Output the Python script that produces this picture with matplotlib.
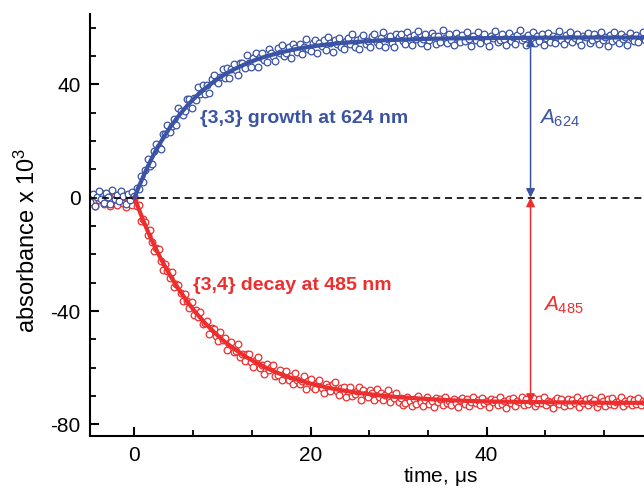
import numpy as np
import matplotlib
matplotlib.use("Agg")
import matplotlib.pyplot as plt
from matplotlib.ticker import MultipleLocator, FixedLocator

plt.rcParams['font.family'] = ['Liberation Sans', 'DejaVu Sans']
plt.rcParams['mathtext.fontset'] = 'custom'
plt.rcParams['mathtext.rm'] = 'Liberation Sans'
plt.rcParams['mathtext.it'] = 'Liberation Sans:italic'
plt.rcParams['axes.unicode_minus'] = False

# sampled traces, 0.25 us steps starting at -5 us
t_start = -5.0
t_step = 0.25

blue_pts = [-1.5, 1.2, -2.8, 0.4, 2.3, -0.6, -1.9, 1.7, 0.2, -2.4,
            2.8, -0.3, 1.1, -1.2, 2.5, 0.7, -2.1, 1.4, -0.8, 2.0,
            0.6,
            3.3, 3.1, 7.8, 5.6, 9.7, 13.5, 11.3, 11.7, 16.5, 18.8,
            17.9, 17.0, 22.6, 22.4, 25.8, 23.1, 25.4, 27.9, 25.6, 31.7,
            30.4, 29.0, 30.7, 34.7, 34.8, 31.7, 35.3, 34.6, 39.1, 36.5,
            39.7, 36.5, 39.9, 36.9, 41.8, 43.2, 41.0, 40.4, 42.6, 45.5,
            42.2, 45.6, 42.1, 45.3, 47.2, 44.9, 43.4, 47.5, 47.4, 45.6,
            50.2, 47.5, 46.2, 49.3, 51.0, 46.0, 49.5, 51.0, 48.6, 47.8,
            52.3, 51.2, 49.9, 48.3, 52.7, 51.1, 53.9, 50.0, 50.9, 53.2,
            49.3, 54.3, 52.9, 51.3, 54.1, 50.6, 53.2, 55.9, 52.3, 51.6,
            54.5, 55.8, 51.1, 54.5, 53.4, 55.8, 52.1, 56.6, 54.4, 51.5,
            55.7, 54.3, 56.5, 53.3, 52.3, 55.4, 56.4, 54.1, 57.6, 53.3,
            55.5, 52.4, 56.3, 57.3, 54.1, 55.2, 53.3, 57.1, 57.8, 54.9,
            54.0, 56.4, 58.3, 53.3, 55.9, 57.1, 54.7, 53.2, 57.8, 56.7,
            57.9, 55.2, 54.1, 58.4, 56.7, 53.8, 57.3, 55.9, 58.9, 54.6,
            56.1, 57.8, 53.4, 55.5, 58.2, 56.9, 54.3, 57.1, 55.0, 59.3,
            56.4, 54.7, 57.6, 55.6, 53.9, 58.0, 56.2, 54.9, 57.4, 55.3,
            58.6, 56.0, 53.6, 57.0, 55.8, 58.3, 54.4, 56.6, 57.7, 55.1,
            53.5, 57.2, 56.3, 58.7, 54.8, 55.7, 57.9, 56.1, 53.9, 58.1,
            55.4, 56.8, 54.2, 57.5, 59.0, 55.6, 56.5, 54.0, 57.3, 55.9,
            58.4, 54.5, 56.9, 55.2, 57.8, 53.7, 56.2, 58.2, 55.0, 57.0,
            54.6, 56.7, 58.8, 55.5, 54.1, 57.4, 56.0, 58.5, 54.9, 56.4,
            57.6, 55.3, 53.8, 57.1, 56.6, 58.0, 54.7, 55.8, 57.9, 56.3,
            54.3, 58.6, 55.7, 56.8, 53.6, 57.3, 55.1, 58.3, 56.1, 54.5,
            57.7, 55.9, 56.6, 54.0, 58.1, 56.2, 55.4, 57.5, 54.8, 56.9,
            58.4, 55.6]

red_pts = [0.8, -1.6, -2.9, 0.3, -0.9, 1.5, -2.2, -0.4, 1.1, -3.1,
           -1.3, 0.6, -2.5, -0.1, 1.9, -1.8, -3.4, 0.2, -1.1, -2.7,
           -0.5,
           -3.0, -2.5, -8.1, -7.7, -8.7, -13.3, -11.3, -15.5, -18.7, -17.7,
           -18.1, -22.2, -25.4, -23.5, -25.8, -28.4, -26.1, -31.7, -30.4, -30.8,
           -33.6, -36.6, -33.9, -36.4, -38.8, -36.8, -41.3, -39.8, -42.1, -40.2,
           -44.7, -44.2, -43.5, -48.2, -45.9, -46.2, -48.9, -50.5, -47.4, -50.3,
           -49.5, -53.6, -51.5, -50.8, -54.3, -54.2, -51.8, -56.2, -55.1, -57.8,
           -55.3, -55.2, -58.0, -59.6, -57.3, -56.3, -60.1, -59.0, -62.2, -58.7,
           -60.8, -59.9, -59.1, -63.0, -62.4, -60.9, -64.5, -62.1, -61.3, -64.2,
           -63.1, -65.6, -61.7, -64.5, -65.8, -64.6, -63.1, -67.5, -64.6, -64.1,
           -66.7, -67.6, -65.5, -64.3, -67.0, -69.0, -65.8, -66.9, -68.3, -65.6,
           -65.1, -68.2, -69.5, -67.0, -66.8, -70.2, -68.3, -66.9, -70.0, -69.4,
           -68.3, -66.9, -71.4, -67.9, -69.3, -70.5, -67.7, -68.9, -71.4, -67.4,
           -70.5, -68.8, -71.4, -69.7, -67.9, -72.2, -69.5, -70.6, -68.9, -72.0,
           -70.6, -73.1, -72.4, -70.2, -71.8, -73.6, -71.0, -72.7, -69.9, -72.2,
           -73.4, -71.3, -70.5, -72.9, -71.6, -73.9, -70.8, -72.0, -71.2, -73.3,
           -70.3, -72.5, -71.7, -73.0, -70.9, -72.3, -74.0, -71.4, -70.7, -72.8,
           -71.1, -73.5, -72.1, -70.4, -72.6, -71.5, -73.2, -70.6, -72.4, -71.9,
           -73.7, -70.9, -72.2, -71.3, -73.0, -70.5, -72.7, -71.8, -74.1, -71.0,
           -72.5, -70.7, -73.4, -71.6, -72.0, -70.3, -73.1, -71.2, -72.9, -71.7,
           -70.8, -73.6, -72.3, -71.1, -72.6, -70.4, -73.3, -71.9, -72.1, -74.2,
           -71.4, -70.6, -72.8, -71.0, -73.5, -72.2, -70.9, -73.0, -71.5, -72.4,
           -70.2, -73.8, -71.7, -72.6, -71.2, -73.2, -70.7, -72.0, -71.3, -73.9,
           -72.5, -70.5, -71.8, -73.4, -71.1, -72.7, -70.8, -73.1, -72.2, -71.6,
           -70.4, -73.6, -71.9, -72.3, -70.9, -73.0, -71.4, -72.8, -70.6, -73.3,
           -71.7, -72.1]

# fitted curves
fit_t = [0, 0.5, 1, 1.5, 2, 2.5, 3, 4, 5, 6, 7, 8, 9, 10, 11, 12, 13, 14, 15,
         16, 17, 18, 19, 20, 22, 24, 26, 28, 30, 33, 36, 40, 45, 50, 55, 58]
blue_fit = [0, 3.9, 7.5, 10.9, 14.1, 17.0, 19.7, 24.6, 28.8, 32.5, 35.7, 38.5,
            40.9, 43.0, 44.8, 46.3, 47.7, 48.9, 49.9, 50.7, 51.5, 52.2, 52.8,
            53.3, 54.1, 54.7, 55.1, 55.5, 55.7, 56.0, 56.2, 56.3, 56.4, 56.5,
            56.5, 56.5]
red_fit = [0, -4.1, -8.1, -11.8, -15.2, -18.5, -21.6, -27.2, -32.2, -36.7,
           -40.7, -44.2, -47.3, -50.2, -52.6, -54.8, -56.8, -58.5, -60.1, -61.5,
           -62.7, -63.8, -64.7, -65.6, -67.1, -68.2, -69.1, -69.8, -70.4, -71.0,
           -71.5, -71.9, -72.1, -72.3, -72.4, -72.4]

x_major = [0, 20, 40]
arrow_t = 45
blue_amp = 56.5
red_amp = -72.4

blue = '#3a53a4'
red = '#ee2e2e'

t_blue = t_start + t_step * np.arange(len(blue_pts))
t_red = t_start + t_step * np.arange(len(red_pts))

fig = plt.figure(figsize=(6.44, 4.91), dpi=100)
# axes run past the right edge, the figure is cropped there
ax = fig.add_axes([0.1405, 0.112, 1.227 - 0.1405, 0.8595])

ax.plot(t_red, red_pts, 'o', ms=4.8, mfc='white', mec=red, mew=0.9, zorder=2)
ax.plot(t_blue, blue_pts, 'o', ms=4.8, mfc='white', mec=blue, mew=0.9, zorder=2)
ax.plot(fit_t, red_fit, '-', color=red, lw=3, zorder=3)
ax.plot(fit_t, blue_fit, '-', color=blue, lw=3, zorder=3)

ax.axhline(0, color='black', lw=1.2, dashes=(4.2, 2.9), zorder=4)

ax.annotate('', xy=(arrow_t, 0), xytext=(arrow_t, blue_amp),
            arrowprops=dict(arrowstyle='<|-|>', color=blue, lw=1.1,
                            mutation_scale=13, shrinkA=0, shrinkB=0), zorder=5)
ax.annotate('', xy=(arrow_t, 0), xytext=(arrow_t, red_amp),
            arrowprops=dict(arrowstyle='<|-|>', color=red, lw=1.1,
                            mutation_scale=13, shrinkA=0, shrinkB=0), zorder=5)

ax.text(7.5, 28, '{3,3} growth at 624 nm', color=blue, fontsize=14,
        fontweight='bold', va='center')
ax.text(6.6, -31, '{3,4} decay at 485 nm', color=red, fontsize=14,
        fontweight='bold', va='center')
ax.text(46.0, 28, r'$A_{\mathrm{624}}$', color=blue, fontsize=15, va='center')
ax.text(46.4, -38, r'$A_{\mathrm{485}}$', color=red, fontsize=15, va='center')

ax.set_xlim(-5, 74.5)
ax.set_ylim(-84.1, 64.8)
ax.xaxis.set_major_locator(FixedLocator(x_major))
ax.xaxis.set_minor_locator(MultipleLocator(20 / 3))
ax.yaxis.set_major_locator(MultipleLocator(40))
ax.yaxis.set_minor_locator(MultipleLocator(10))

for s in ['top', 'right']:
    ax.spines[s].set_visible(False)
for s in ['left', 'bottom']:
    ax.spines[s].set_linewidth(1.5)
ax.tick_params(which='major', direction='in', length=6.5, width=1.5,
               labelsize=15, pad=7)
ax.tick_params(which='minor', direction='in', length=4, width=1.3)

ax.set_xlabel(r'time, $\mathrm{\mu}$s', fontsize=15, labelpad=0)
ax.set_ylabel(r'absorbance $\mathrm{x}$ 10$^{3}$', fontsize=17)
ax.yaxis.set_label_coords(-0.072, 0.464)

fig.savefig('out.png', dpi=100)
